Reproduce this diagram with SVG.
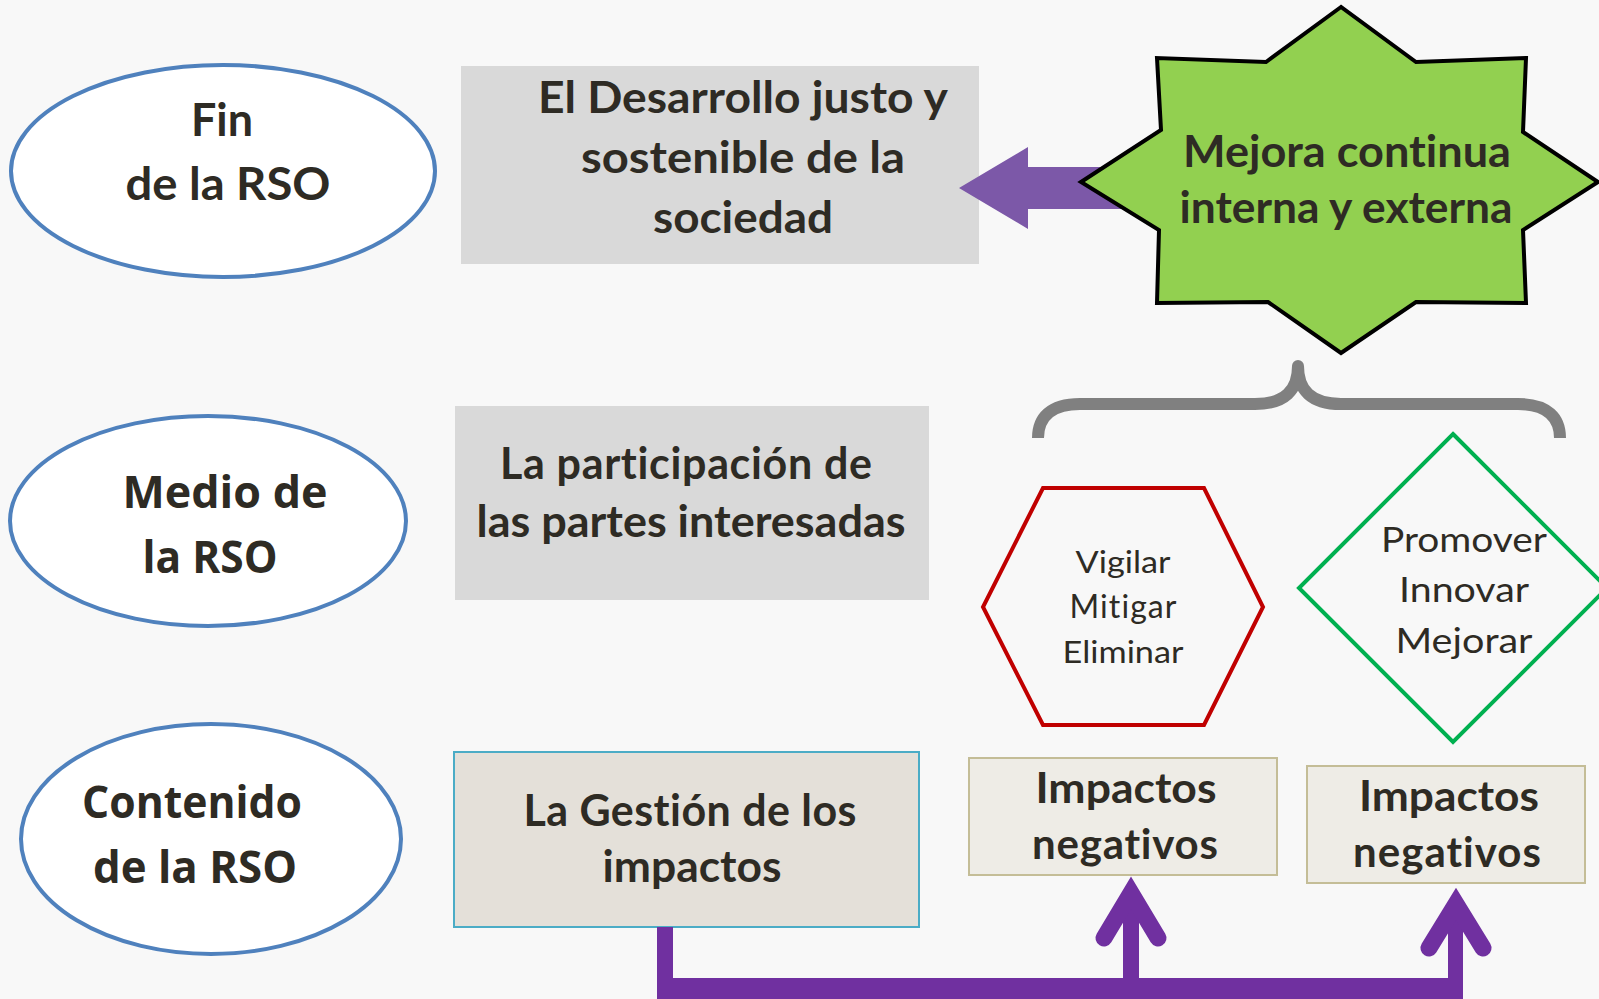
<svg xmlns="http://www.w3.org/2000/svg" width="1599" height="999" viewBox="0 0 1599 999">
<style>
text{font-variant-ligatures:none;font-feature-settings:"liga" 0,"clig" 0,"dlig" 0}
.ell{fill:#FFFFFF;stroke:#4F81BD;stroke-width:4}
.t{fill:#2E2B24;text-anchor:middle}
.lb{font-family:Lato,"Noto Sans",sans-serif;font-weight:bold}
.os{font-family:"Open Sans","Noto Sans",sans-serif;font-weight:bold}
.lr{font-family:Lato,"Noto Sans",sans-serif;font-weight:normal}
.imp{fill:#EEECE6;stroke:#C4BD97;stroke-width:2}
.conn{fill:#7030A0}
.head{fill:none;stroke:#7030A0;stroke-width:17;stroke-linecap:round;stroke-linejoin:miter}
</style>
<rect width="1599" height="999" fill="#F8F8F8"/>

<g id="fin">
<ellipse class="ell" cx="223" cy="171" rx="212" ry="106"/>
<text class="t lb" font-size="46" x="222" y="136" textLength="62" lengthAdjust="spacingAndGlyphs">Fin</text>
<text class="t lb" font-size="46" x="228" y="200" textLength="205" lengthAdjust="spacingAndGlyphs">de la RSO</text>
</g>

<g id="desarrollo">
<rect x="461" y="66" width="518" height="198" fill="#D9D9D9"/>
<text class="t lb" font-size="44" x="743" y="113" textLength="410" lengthAdjust="spacingAndGlyphs">El Desarrollo justo y</text>
<text class="t lb" font-size="44" x="743" y="173" textLength="324" lengthAdjust="spacingAndGlyphs">sostenible de la</text>
<text class="t lb" font-size="44" x="743" y="233" textLength="180" lengthAdjust="spacingAndGlyphs">sociedad</text>
</g>

<g id="arrow-top">
<polygon points="959,188 1028,147 1028,167 1140,167 1140,209 1028,209 1028,229" fill="#7C58A8"/>
</g>

<g id="mejora">
<polygon points="1341,7 1266,62 1157,58 1161,130 1081,182 1159,230 1157,303 1268,302 1341,353 1416,302 1526,303 1523,230 1598,182 1523,132 1526,58 1416,62" fill="#92D050" stroke="#000000" stroke-width="4" stroke-linejoin="miter"/>
<text class="t lb" font-size="44" x="1347" y="167" textLength="328" lengthAdjust="spacingAndGlyphs">Mejora continua</text>
<text class="t lb" font-size="44" x="1346" y="223" textLength="333" lengthAdjust="spacingAndGlyphs">interna y externa</text>
</g>

<g id="brace">
<path d="M1038,438 C1038,418 1050,404 1080,404 L1255,404 C1285,404 1298,390 1298,366 C1298,390 1311,404 1341,404 L1518,404 C1548,404 1560,418 1560,438" fill="none" stroke="#808080" stroke-width="12" stroke-linejoin="round"/>
</g>

<g id="medio">
<ellipse class="ell" cx="208" cy="521" rx="198" ry="105"/>
<text class="t os" font-size="45" x="225" y="508" textLength="205" lengthAdjust="spacingAndGlyphs">Medio de</text>
<text class="t os" font-size="45" x="210" y="573" textLength="135" lengthAdjust="spacingAndGlyphs">la RSO</text>
</g>

<g id="participacion">
<rect x="455" y="406" width="474" height="194" fill="#D9D9D9"/>
<text class="t lb" font-size="43" x="686" y="479" textLength="372" lengthAdjust="spacing">La participación de</text>
<text class="t lb" font-size="44" x="691" y="537" textLength="429" lengthAdjust="spacingAndGlyphs">las partes interesadas</text>
</g>

<g id="vigilar">
<polygon points="1043,488 1204,488 1263,607 1204,725 1043,725 983,607" fill="none" stroke="#C00000" stroke-width="4"/>
<text class="t lr" font-size="31" x="1123" y="573" textLength="95" lengthAdjust="spacingAndGlyphs">Vigilar</text>
<text class="t lr" font-size="32" x="1123" y="618" textLength="107" lengthAdjust="spacing">Mitigar</text>
<text class="t lr" font-size="31" x="1123" y="663" textLength="121" lengthAdjust="spacingAndGlyphs">Eliminar</text>
</g>

<g id="promover">
<polygon points="1453,434 1607,588 1453,742 1299,588" fill="none" stroke="#00B050" stroke-width="4"/>
<text class="t lr" font-size="35" x="1464" y="552" textLength="166" lengthAdjust="spacingAndGlyphs">Promover</text>
<text class="t lr" font-size="35" x="1464" y="602" textLength="130" lengthAdjust="spacingAndGlyphs">Innovar</text>
<text class="t lr" font-size="35" x="1464" y="653" textLength="137" lengthAdjust="spacingAndGlyphs">Mejorar</text>
</g>

<g id="contenido">
<ellipse class="ell" cx="211" cy="839" rx="190" ry="115"/>
<text class="t os" font-size="45" x="192" y="818" textLength="220" lengthAdjust="spacingAndGlyphs">Contenido</text>
<text class="t os" font-size="45" x="195" y="883" textLength="204" lengthAdjust="spacingAndGlyphs">de la RSO</text>
</g>

<g id="gestion">
<rect x="454" y="752" width="465" height="175" fill="#E4E0D9" stroke="#4BACC6" stroke-width="2"/>
<text class="t lb" font-size="43" x="690" y="826" textLength="333" lengthAdjust="spacing">La Gestión de los</text>
<text class="t lb" font-size="44" x="692" y="882" textLength="179" lengthAdjust="spacingAndGlyphs">impactos</text>
</g>

<g id="impactos1">
<rect class="imp" x="969" y="758" width="308" height="117"/>
<text class="t lb" font-size="42" x="1126" y="803" textLength="181" lengthAdjust="spacingAndGlyphs">Impactos</text>
<text class="t lb" font-size="42" x="1125" y="859" textLength="186" lengthAdjust="spacing">negativos</text>
</g>

<g id="impactos2">
<rect class="imp" x="1307" y="766" width="278" height="117"/>
<text class="t lb" font-size="42" x="1449" y="811" textLength="180" lengthAdjust="spacingAndGlyphs">Impactos</text>
<text class="t lb" font-size="42" x="1447" y="867" textLength="188" lengthAdjust="spacing">negativos</text>
</g>

<g id="connectors">
<rect class="conn" x="657" y="927" width="16" height="62"/>
<rect class="conn" x="657" y="978" width="806" height="21"/>
<rect class="conn" x="1123" y="893" width="16" height="90"/>
<rect class="conn" x="1448" y="904" width="15" height="80"/>
<path class="head" d="M1104,938 L1131,893 L1158,938"/>
<path class="head" d="M1429,948 L1456,904 L1483,948"/>
</g>
</svg>
